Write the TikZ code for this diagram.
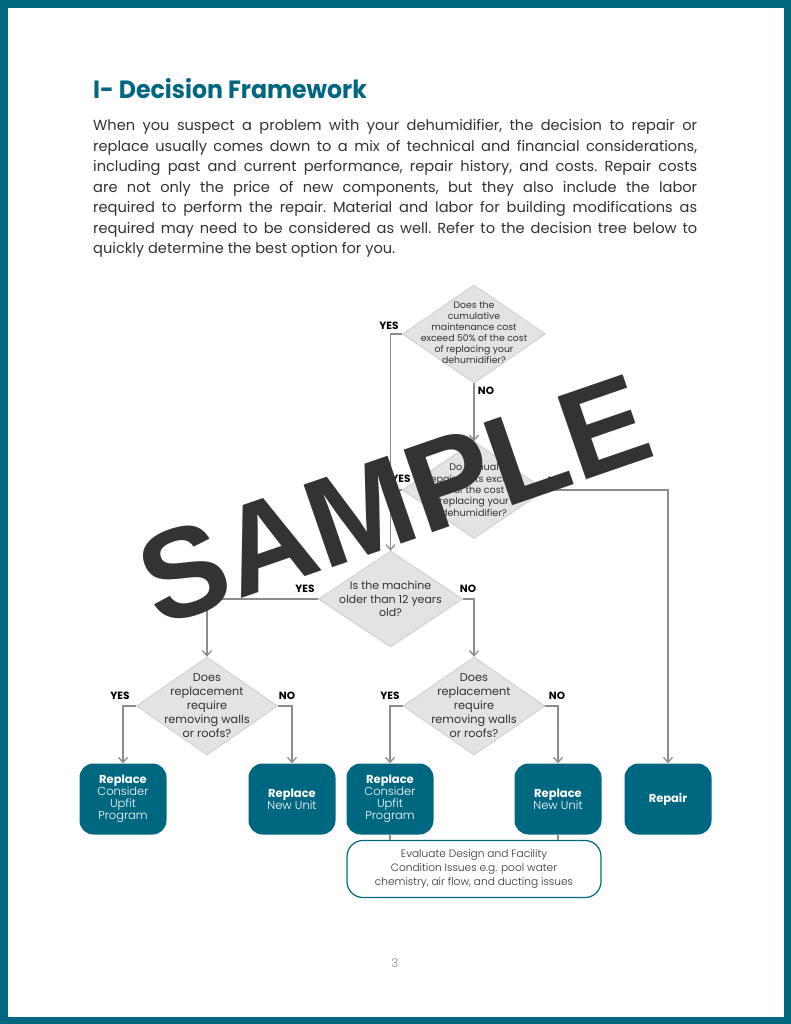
\documentclass[tikz,border=0pt]{standalone}
\usepackage{fontspec}
\setmainfont{Poppins}
\IfFontExistsTF{Poppins Light}{\newfontfamily\lightfont{Poppins Light}}{\newfontfamily\lightfont{Poppins}}
\newfontfamily\wmfont{Liberation Sans}
\usetikzlibrary{shapes.geometric,arrows.meta}
\definecolor{pageteal}{RGB}{0,103,128}
\definecolor{diafill}{RGB}{227,227,227}
\definecolor{dialine}{RGB}{205,205,205}
\definecolor{conncol}{RGB}{140,140,140}
\definecolor{bodytxt}{RGB}{50,50,50}
\definecolor{wmcol}{RGB}{52,50,51}
\newcommand{\fs}[2]{\fontsize{#1}{#2}\selectfont}
\newcommand{\jline}[1]{\makebox[604pt][s]{#1}}
\tikzset{
  dia/.style={diamond, draw=dialine, fill=diafill, line width=0.8pt, inner sep=0pt},
  diatxt/.style={align=center, text=bodytxt, inner sep=0pt},
  conn/.style={draw=conncol, line width=1.4pt},
  arr/.style={conn, -{Straight Barb[length=5pt,width=9pt,line width=1.3pt]}},
  yn/.style={font=\bfseries\fs{10.5}{12}, text=black, inner sep=0pt},
  outbox/.style={draw=none, fill=pageteal, rounded corners=14pt, minimum width=87pt, minimum height=71pt, text=white, align=center, inner sep=0pt},
}
\begin{document}
\begin{tikzpicture}[x=1pt,y=-1pt]
\useasboundingbox (0,0) rectangle (791,1024);
\fill[pageteal] (0,0) rectangle (791,1024);
\fill[white] (7.5,8) rectangle (784,1017);

% heading and paragraph
\node[anchor=base west, inner sep=0pt, text=pageteal, font=\bfseries\fs{25}{30}] (head) at (93,99) {\scalebox{0.945}[1]{I- Decision Framework}};
\node[anchor=base west, inner sep=0pt, text width=604pt, align=left, text=bodytxt, font=\fs{14.6}{20.5}] (para) at (93,131) {%
\frenchspacing\spaceskip=\fontdimen2\font plus 4\fontdimen2\font minus 0.3\fontdimen2\font
\jline{When you suspect a problem with your dehumidifier, the decision to repair or}\\
\jline{replace usually comes down to a mix of technical and financial considerations,}\\
\jline{including past and current performance, repair history, and costs. Repair costs}\\
\jline{are not only the price of new components, but they also include the labor}\\
\jline{required to perform the repair. Material and labor for building modifications as}\\
\jline{required may need to be considered as well. Refer to the decision tree below to}\\
quickly determine the best option for you.};

% diamonds
\node[dia, minimum width=143pt, minimum height=98pt] (d1) at (474,334) {};
\node[diatxt, font=\fs{9.3}{11}] (d1t) at (474,333) {Does the\\cumulative\\maintenance cost\\exceed 50\% of the cost\\of replacing your\\dehumidifier?};
\node[dia, minimum width=143pt, minimum height=97pt] (d2) at (474,490) {};
\node[diatxt, font=\fs{9.6}{11.3}] (d2t) at (474,490) {Do annual\\repair costs exceed\\40\% of the cost of\\replacing your\\dehumidifier?};
\node[dia, minimum width=144pt, minimum height=96pt] (d3) at (390.5,599) {};
\node[diatxt, font=\fs{11}{13.5}] (d3t) at (390.5,599) {Is the machine\\older than 12 years\\old?};
\node[dia, minimum width=141pt, minimum height=98pt] (d4) at (207,706) {};
\node[diatxt, font=\fs{11.3}{14}] (d4t) at (207,706) {Does\\replacement\\require\\removing walls\\or roofs?};
\node[dia, minimum width=142pt, minimum height=98pt] (d5) at (474,706) {};
\node[diatxt, font=\fs{11.3}{14}] (d5t) at (474,706) {Does\\replacement\\require\\removing walls\\or roofs?};

% outcome boxes
\node[outbox] (bA) at (123,799) {{\bfseries\fs{11.5}{14.3}Replace}\\{\lightfont\fs{11.5}{14.3}Consider}\\{\lightfont\fs{11.5}{14.3}Upfit}\\{\lightfont\fs{11.5}{14.3}Program}};
\node[outbox] (bB) at (292,799) {{\bfseries\fs{11.5}{14.3}Replace}\\{\lightfont\fs{11.5}{14.3}New Unit}};
\node[outbox] (bC) at (390,799) {{\bfseries\fs{11.5}{14.3}Replace}\\{\lightfont\fs{11.5}{14.3}Consider}\\{\lightfont\fs{11.5}{14.3}Upfit}\\{\lightfont\fs{11.5}{14.3}Program}};
\node[outbox] (bD) at (558,799) {{\bfseries\fs{11.5}{14.3}Replace}\\{\lightfont\fs{11.5}{14.3}New Unit}};
\node[outbox, font=\bfseries\fs{11.5}{14.3}] (rep) at (668,799) {Repair};
\node[draw=pageteal, line width=1.2pt, fill=white, rounded corners=16pt, minimum width=254pt, minimum height=57pt, align=center, text=bodytxt, font=\lightfont\fs{10.6}{14}, inner sep=0pt] (ev) at (474,869) {Evaluate Design and Facility\\Condition Issues e.g. pool water\\chemistry, air flow, and ducting issues};

% connectors
\draw[arr] (d1.west) -| (d3.north);
\draw[arr] (d1.south) -- (d2.north);
\draw[conn] (d2.west) -- (d2.west -| d3.north);
\draw[arr] (d2.east) -| (rep.north);
\draw[arr] (d3.west) -| (d4.north);
\draw[arr] (d3.east) -| (d5.north);
\draw[arr] (d4.west) -| (bA.north);
\draw[arr] (d4.east) -| (bB.north);
\draw[arr] (d5.west) -| (bC.north);
\draw[arr] (d5.east) -| (bD.north);
\draw[conn] (bC.south) -- (bC.south |- ev.north);
\draw[conn] (bD.south) -- (bD.south |- ev.north);

% yes / no labels
\node[yn] (y1) at (389,326) {YES};
\node[yn] (n1) at (486,391) {NO};
\node[yn] (y2) at (401,479) {YES};
\node[yn] (n2) at (556,481) {NO};
\node[yn] (y3) at (305,589) {YES};
\node[yn] (n3) at (468,589) {NO};
\node[yn] (y4) at (120,696) {YES};
\node[yn] (n4) at (287,696) {NO};
\node[yn] (y5) at (390,696) {YES};
\node[yn] (n5) at (557,696) {NO};

% page number
\node[text=conncol, font=\lightfont\fs{12}{14}, inner sep=0pt] (pg) at (395,963) {3};

% watermark
\node[font=\wmfont\bfseries\fs{127}{127}, text=wmcol, rotate=19, inner sep=0pt] (wm) at (394,500) {SAMPLE};
\end{tikzpicture}
\end{document}
